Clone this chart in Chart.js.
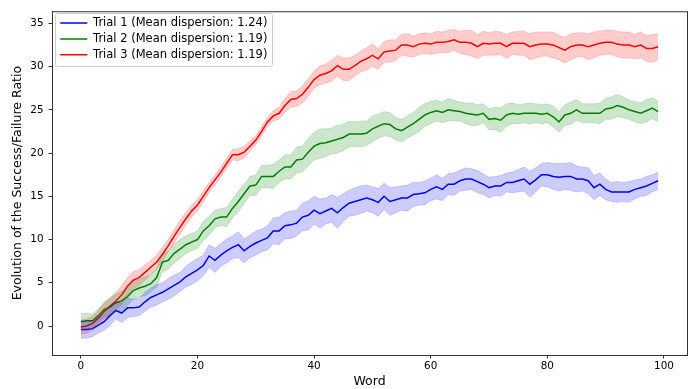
<!DOCTYPE html>
<html>
<head>
<meta charset="utf-8">
<script src="https://cdn.jsdelivr.net/npm/chart.js@4.4.1/dist/chart.umd.min.js"></script>
<style>
  html, body { margin: 0; padding: 0; background: #fff; }
  canvas { display: block; }
</style>
</head>
<body>
<canvas id="trialChart" width="689" height="389"></canvas>
<script>
// x axis: word index
const words = Array.from({ length: 100 }, (_, i) => i);

// mean success/failure ratio per trial
const trial1 = [
  -0.4, -0.4, -0.3, 0.1, 0.5, 1.2, 1.8, 1.5, 2.1, 2.1,
  2.2, 2.8, 3.3, 3.6, 3.9, 4.3, 4.7, 5.1, 5.7, 6.1,
  6.5, 7.0, 8.1, 7.6, 8.2, 8.7, 9.1, 9.4, 8.7, 9.2,
  9.6, 9.9, 10.2, 11.0, 11.0, 11.6, 11.7, 11.9, 12.6, 12.8,
  13.4, 13.0, 13.3, 13.6, 13.1, 13.7, 14.2, 14.4, 14.6, 14.8,
  14.6, 14.3, 15.0, 14.4, 14.6, 14.8, 14.8, 15.2, 15.3, 15.4,
  15.8, 16.1, 15.8, 16.4, 16.4, 16.8, 17.0, 17.0, 16.7, 16.4,
  16.0, 16.2, 16.2, 16.6, 16.6, 16.8, 17.0, 16.4, 16.9, 17.5,
  17.5, 17.3, 17.2, 17.3, 17.3, 17.0, 17.0, 16.8, 16.0, 16.4,
  15.8, 15.5, 15.5, 15.5, 15.5, 15.8, 16.0, 16.2, 16.5, 16.8
];
const trial2 = [
  0.5, 0.6, 0.6, 1.2, 1.9, 2.2, 2.7, 2.9, 3.4, 4.1,
  4.4, 4.6, 4.9, 5.6, 7.4, 7.6, 8.4, 8.9, 9.4, 9.7,
  10.0, 11.0, 11.6, 12.4, 12.6, 12.6, 13.6, 14.4, 15.3, 16.2,
  16.3, 17.3, 17.3, 17.3, 17.9, 18.4, 18.4, 19.2, 19.3, 20.1,
  20.8, 21.1, 21.2, 21.4, 21.6, 21.8, 22.2, 22.2, 22.2, 22.3,
  22.8, 23.1, 23.4, 23.3, 22.8, 22.6, 23.0, 23.4, 23.9, 24.4,
  24.7, 24.9, 24.7, 25.0, 24.9, 24.8, 24.6, 24.5, 24.4, 24.6,
  23.9, 24.0, 23.8, 24.4, 24.6, 24.5, 24.6, 24.6, 24.6, 24.5,
  24.6, 24.2, 23.6, 24.4, 24.6, 25.0, 24.6, 24.6, 24.6, 24.6,
  25.1, 25.2, 25.5, 25.3, 25.0, 24.8, 24.6, 24.9, 25.2, 24.8
];
const trial3 = [
  -0.1, 0.0, 0.3, 0.9, 1.7, 2.3, 2.9, 3.6, 4.6, 5.3,
  5.6, 6.2, 6.8, 7.4, 8.3, 9.3, 10.4, 11.4, 12.4, 13.3,
  14.0, 15.0, 16.0, 16.9, 17.8, 18.8, 19.8, 19.8, 20.1, 20.8,
  21.5, 22.5, 23.6, 24.3, 24.6, 25.5, 26.2, 26.3, 26.8, 27.6,
  28.5, 29.0, 29.2, 29.5, 30.1, 29.7, 29.7, 30.1, 30.6, 30.9,
  31.3, 30.9, 31.7, 31.8, 31.9, 32.5, 32.5, 32.3, 32.6, 32.7,
  32.6, 32.8, 32.8, 32.9, 33.1, 32.8, 32.8, 32.7, 32.3, 32.7,
  32.6, 32.7, 32.7, 32.3, 32.7, 32.7, 32.7, 32.3, 32.5, 32.6,
  32.6, 32.5, 32.2, 31.9, 32.3, 32.5, 32.5, 32.3, 32.5, 32.7,
  32.8, 32.8, 32.6, 32.5, 32.5, 32.3, 32.5, 32.1, 32.1, 32.3
];

// half width of the shaded band around each mean
const spread1 = [
  1.0, 1.0, 0.9, 0.9, 1.0, 1.1, 1.0, 1.1, 1.1, 1.0,
  1.0, 1.1, 1.1, 1.2, 1.1, 1.2, 1.2, 1.1, 1.2, 1.3,
  1.3, 1.2, 1.3, 1.4, 1.3, 1.4, 1.3, 1.5, 1.4, 1.3,
  1.4, 1.3, 1.4, 1.5, 1.6, 1.5, 1.6, 1.5, 1.6, 1.7,
  1.6, 1.7, 1.5, 1.6, 1.8, 1.6, 1.5, 1.6, 1.6, 1.5,
  1.5, 1.6, 1.5, 1.6, 1.5, 1.4, 1.5, 1.4, 1.3, 1.4,
  1.3, 1.4, 1.3, 1.2, 1.3, 1.2, 1.3, 1.2, 1.3, 1.2,
  1.2, 1.1, 1.2, 1.1, 1.2, 1.3, 1.4, 1.5, 1.4, 1.3,
  1.4, 1.5, 1.6, 1.5, 1.6, 1.5, 1.4, 1.5, 1.4, 1.3,
  1.2, 1.1, 1.2, 1.1, 1.2, 1.1, 1.0, 1.1, 1.0, 1.0
];
const spread2 = [
  0.9, 0.9, 0.8, 0.8, 0.9, 1.0, 1.0, 1.1, 1.0, 1.0,
  1.0, 1.1, 1.0, 1.1, 1.1, 1.0, 1.1, 1.1, 1.0, 1.0,
  1.0, 1.1, 1.1, 1.0, 1.0, 1.1, 1.1, 1.2, 1.1, 1.1,
  1.2, 1.3, 1.3, 1.4, 1.3, 1.4, 1.4, 1.5, 1.5, 1.6,
  1.6, 1.7, 1.6, 1.5, 1.6, 1.5, 1.5, 1.4, 1.5, 1.4,
  1.5, 1.4, 1.4, 1.4, 1.3, 1.3, 1.3, 1.3, 1.4, 1.3,
  1.3, 1.2, 1.2, 1.3, 1.2, 1.1, 1.2, 1.3, 1.2, 1.1,
  1.2, 1.3, 1.4, 1.3, 1.2, 1.1, 1.1, 1.2, 1.1, 1.1,
  1.1, 1.2, 1.2, 1.2, 1.3, 1.2, 1.1, 1.1, 1.1, 1.2,
  1.2, 1.3, 1.3, 1.2, 1.1, 1.2, 1.2, 1.3, 1.2, 1.2
];
const spread3 = [
  0.8, 0.8, 0.8, 0.9, 0.9, 1.0, 1.0, 1.1, 1.0, 1.0,
  0.9, 0.9, 0.8, 0.8, 0.8, 0.7, 0.8, 0.8, 0.7, 0.7,
  0.7, 0.6, 0.6, 0.6, 0.6, 0.6, 0.6, 0.7, 0.7, 0.6,
  0.5, 0.5, 0.5, 0.6, 0.7, 0.8, 0.9, 0.9, 1.0, 1.0,
  1.0, 1.1, 1.1, 1.2, 1.2, 1.3, 1.3, 1.2, 1.2, 1.3,
  1.3, 1.2, 1.2, 1.3, 1.2, 1.2, 1.3, 1.2, 1.2, 1.2,
  1.2, 1.3, 1.2, 1.3, 1.2, 1.3, 1.4, 1.5, 1.4, 1.4,
  1.3, 1.4, 1.3, 1.4, 1.3, 1.4, 1.4, 1.5, 1.5, 1.4,
  1.4, 1.5, 1.4, 1.5, 1.5, 1.4, 1.4, 1.5, 1.5, 1.4,
  1.4, 1.4, 1.5, 1.5, 1.5, 1.4, 1.5, 1.5, 1.6, 1.5
];

const trialNames = [
  'Trial 1 (Mean dispersion: 1.24)',
  'Trial 2 (Mean dispersion: 1.19)',
  'Trial 3 (Mean dispersion: 1.19)'
];
const xTicks = [0, 20, 40, 60, 80, 100];
const yTicks = [0, 5, 10, 15, 20, 25, 30, 35];

const lineColors = ['#0000ff', '#008000', '#ff0000'];
const bandColors = ['rgba(0,0,255,0.2)', 'rgba(0,128,0,0.2)', 'rgba(255,0,0,0.2)'];
const means = [trial1, trial2, trial3];
const spreads = [spread1, spread2, spread3];
const font = 'DejaVu Sans';

let datasets = [];
// bands first: lower edge, then upper edge filled down to it
means.forEach((m, k) => {
  datasets.push({
    data: words.map((w, i) => ({ x: w, y: m[i] - spreads[k][i] })),
    borderColor: bandColors[k], borderWidth: 0.8, fill: false, isBand: true
  });
  datasets.push({
    data: words.map((w, i) => ({ x: w, y: m[i] + spreads[k][i] })),
    borderColor: bandColors[k], backgroundColor: bandColors[k], borderWidth: 0.8, fill: '-1', isBand: true
  });
});
means.forEach((m, k) => {
  datasets.push({
    label: trialNames[k],
    data: words.map((w, i) => ({ x: w, y: m[i] })),
    borderColor: lineColors[k], backgroundColor: lineColors[k], borderWidth: 1.5, fill: false
  });
});

// frame around the plot and the legend, matplotlib style
const framePlugin = {
  id: 'frame',
  afterLayout(chart) {
    chart.legend.left = chart.chartArea.left + 4;
    chart.legend.top = chart.chartArea.top + 1.8;
  },
  beforeDraw(chart) {
    const boxes = chart.legend.legendHitBoxes;
    if (!boxes || !boxes.length) return;
    const c = chart.ctx;
    let l = Math.min(...boxes.map(b => b.left)) - 5;
    let t = Math.min(...boxes.map(b => b.top)) - 4.5;
    let r = Math.max(...boxes.map(b => b.left + b.width)) + 5;
    let b = Math.max(...boxes.map(b => b.top + b.height)) + 5;
    c.save();
    c.beginPath();
    c.roundRect(Math.round(l) + 0.5, Math.round(t) + 0.5, Math.round(r - l), Math.round(b - t), 2);
    c.fillStyle = 'rgba(255,255,255,0.8)';
    c.fill();
    c.strokeStyle = '#cccccc';
    c.lineWidth = 1;
    c.stroke();
    c.restore();
  },
  afterDraw(chart) {
    const a = chart.chartArea, c = chart.ctx;
    c.save();
    c.strokeStyle = '#333';
    c.lineWidth = 1;
    c.strokeRect(a.left + 0.5, a.top + 0.5, a.right - a.left, a.bottom - a.top);
    c.restore();
  }
};

new Chart(document.getElementById('trialChart'), {
  type: 'line',
  data: { datasets: datasets },
  plugins: [framePlugin],
  options: {
    responsive: false,
    animation: false,
    devicePixelRatio: 1,
    layout: { padding: { top: 5, right: 2, left: 0, bottom: 0 } },
    elements: { point: { radius: 0 }, line: { tension: 0 } },
    plugins: {
      tooltip: { enabled: false },
      legend: {
        position: 'chartArea',
        align: 'start',
        labels: {
          filter: (item, data) => !data.datasets[item.datasetIndex].isBand,
          boxWidth: 27,
          boxHeight: 0,
          padding: 4.3,
          color: '#000',
          font: { family: font, size: 11.5 }
        }
      }
    },
    scales: {
      x: {
        type: 'linear',
        min: -4.95,
        max: 103.95,
        afterBuildTicks: s => { s.ticks = xTicks.map(v => ({ value: v })); },
        afterFit: s => { s.height = 34; },
        grid: { drawOnChartArea: false, tickLength: 3.5, color: '#333' },
        border: { color: '#333' },
        ticks: { color: '#000', padding: 2, maxRotation: 0, font: { family: font, size: 10.4 } },
        title: { display: true, text: 'Word', color: '#000', padding: 0, font: { family: font, size: 12.5 } }
      },
      y: {
        min: -3.35,
        max: 36.4,
        afterBuildTicks: s => { s.ticks = yTicks.map(v => ({ value: v })); },
        afterFit: s => { s.width = 52; },
        grid: { drawOnChartArea: false, tickLength: 3.5, color: '#333' },
        border: { color: '#333' },
        ticks: { color: '#000', padding: 5, font: { family: font, size: 10.4 } },
        title: {
          display: true, text: 'Evolution of the Success/Failure Ratio', color: '#000',
          padding: { top: 10.5, bottom: 0 }, font: { family: font, size: 12.5 }
        }
      }
    }
  }
});
</script>
</body>
</html>
